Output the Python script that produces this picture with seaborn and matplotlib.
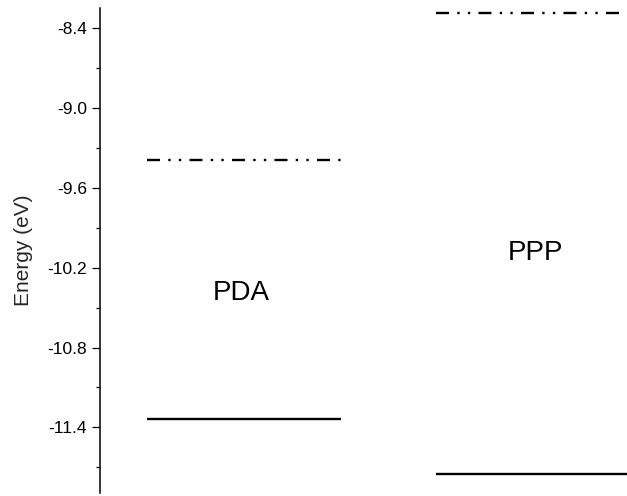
import matplotlib
matplotlib.use("Agg")
import matplotlib.pyplot as plt
import seaborn as sns
import pandas as pd

# Frontier orbital energies (eV)
molecules = ["PDA", "PPP"]
lumo_energy = [-9.39, -8.285]
homo_energy = [-11.34, -11.75]
y_ticks = [-8.4, -9.0, -9.6, -10.2, -10.8, -11.4]
y_minor = [-8.7, -9.3, -9.9, -10.5, -11.1, -11.7]

sns.set_theme(style="ticks")
plt.rcParams["font.family"] = ["Liberation Sans", "DejaVu Sans"]

# horizontal extent of each level bar and label placement
bar_span = {"PDA": (47, 241), "PPP": (336, 527)}
label_pos = {"PDA": (141, -10.39), "PPP": (436, -10.09)}

rows = []
for mol, lu, ho in zip(molecules, lumo_energy, homo_energy):
    x0, x1 = bar_span[mol]
    for level, e in (("LUMO", lu), ("HOMO", ho)):
        for x in (x0, x1):
            rows.append({"x": x, "energy": e, "level": level, "seg": f"{mol}-{level}"})
df = pd.DataFrame(rows)

fig = plt.figure(figsize=(6.27, 4.96), dpi=100)
ax = fig.add_axes([100 / 627, 3 / 496, 527 / 627, 485 / 496])

sns.lineplot(
    data=df, x="x", y="energy", units="seg", style="level", estimator=None,
    dashes={"LUMO": (5.5, 3.5, 1, 3.5, 1, 3.5), "HOMO": ""},
    color="black", linewidth=1.7, legend=False, ax=ax,
)
for line in ax.get_lines():
    line.set_dash_capstyle("butt")
    line.set_solid_capstyle("butt")

for mol in molecules:
    x, y = label_pos[mol]
    ax.text(x, y, mol, ha="center", va="center", fontsize=20, color="black")

ax.set_yticks(y_ticks)
ax.set_yticklabels([f"{t:.1f}" for t in y_ticks])
ax.set_yticks(y_minor, minor=True)
ax.set_xticks([])
ax.set_xlim(0, 527)
ax.set_ylim(-11.894, -8.247)
ax.set_xlabel("")
ax.set_ylabel("Energy (eV)", fontsize=15, labelpad=10)
ax.tick_params(axis="y", which="major", length=5.8, width=0.9, labelsize=12.5,
               pad=3.6, colors="black")
ax.tick_params(axis="y", which="minor", length=3.2, width=0.9, colors="black")
for side in ("top", "right", "bottom"):
    ax.spines[side].set_visible(False)
ax.spines["left"].set_linewidth(1.1)
ax.spines["left"].set_color("black")

fig.savefig("out.png", dpi=100)
